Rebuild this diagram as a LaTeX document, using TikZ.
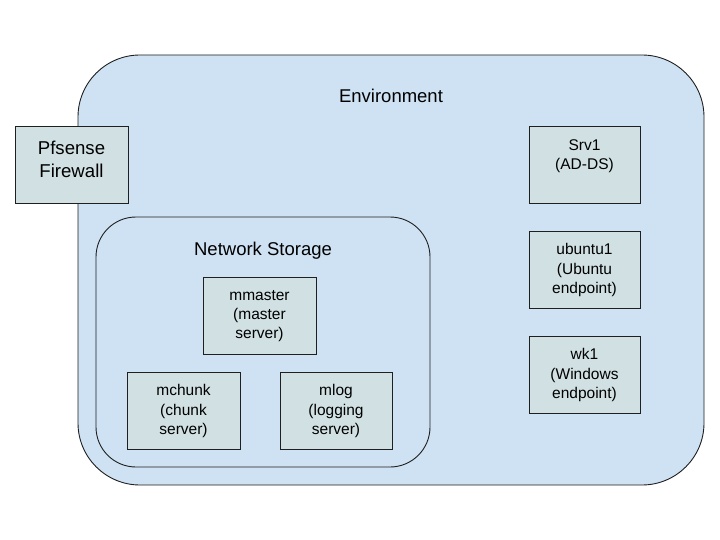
\documentclass[tikz,border=0pt]{standalone}
\usepackage{fontspec}
\setmainfont{Liberation Sans}
\definecolor{envfill}{HTML}{CFE2F3}
\definecolor{boxfill}{HTML}{D0E0E3}
\definecolor{edge}{HTML}{1F1F1F}
\begin{document}
\begin{tikzpicture}[x=1pt,y=-1pt,
  region/.style={draw=edge,line width=0.9pt,fill=envfill},
  hostbox/.style={draw=edge,line width=0.8pt,fill=boxfill},
  hostlabel/.style={align=center,font=\fontsize{15.5}{19.3}\selectfont,text=black,inner sep=0pt},
  bigtitle/.style={font=\fontsize{18.5}{22}\selectfont,text=black,inner sep=0pt}]
\useasboundingbox (0,0) rectangle (720,540);
\fill[white] (0,0) rectangle (720,540);
% environment area
\draw[region,rounded corners=62pt] (78,55) rectangle (704,485);
\node[bigtitle] (envlabel) at (391,96) {Environment};
% firewall
\draw[hostbox] (15,126) rectangle (128,203);
\node[hostlabel,font=\fontsize{18.6}{23}\selectfont] (pfsense) at (71.5,159.5) {Pfsense\\Firewall};
% network storage group
\draw[region,rounded corners=40pt] (96,217) rectangle (430,467);
\node[bigtitle] (nslabel) at (263,250.5) {Network Storage};
\draw[hostbox] (203,277) rectangle (316,354);
\node[hostlabel] (mmaster) at (259.5,316) {mmaster\\(master\\server)};
\draw[hostbox] (127,372) rectangle (240,449);
\node[hostlabel] (mchunk) at (183.5,411) {mchunk\\(chunk\\server)};
\draw[hostbox] (280,372) rectangle (392,449);
\node[hostlabel] (mlog) at (336,411) {mlog\\(logging\\server)};
% hosts
\draw[hostbox] (529,126) rectangle (640,203);
\node[hostlabel] (srv1) at (584.5,156) {Srv1\\(AD-DS)};
\draw[hostbox] (529,231) rectangle (640,308);
\node[hostlabel] (ubuntu1) at (584.5,270) {ubuntu1\\(Ubuntu\\endpoint)};
\draw[hostbox] (529,336) rectangle (640,413);
\node[hostlabel] (wk1) at (584.5,375) {wk1\\(Windows\\endpoint)};
\end{tikzpicture}
\end{document}
